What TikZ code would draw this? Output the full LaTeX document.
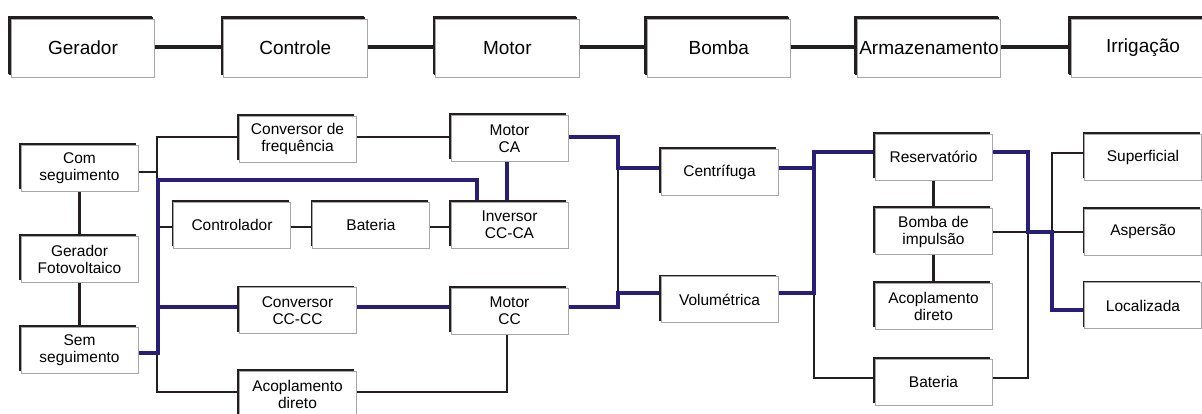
\documentclass[tikz,border=0pt]{standalone}
\usepackage{fontspec}
\setmainfont{Liberation Sans}
\usetikzlibrary{shadows,backgrounds}
\definecolor{ink}{HTML}{231F20}
\definecolor{navy}{HTML}{281E78}
\definecolor{edge}{HTML}{A8A8A8}
\tikzset{
  bx/.style={rectangle, draw=edge, fill=white, line width=0.8pt, inner sep=0pt,
    minimum width=117pt, minimum height=46pt, align=center,
    font=\fontsize{15.5}{17}\selectfont,
    general shadow={fill=ink, shadow xshift=-2pt, shadow yshift=2pt}},
  topbx/.style={bx, minimum width=143.5pt, minimum height=58pt,
    font=\fontsize{19}{21}\selectfont,
    general shadow={fill=ink, shadow xshift=-2.8pt, shadow yshift=2.8pt}},
  blk/.style={draw=ink, line width=2.8pt},
  blkthin/.style={draw=ink, line width=2pt},
  blu/.style={draw=navy, line width=4pt},
  topln/.style={draw=ink, line width=4pt}
}
\begin{document}
\begin{tikzpicture}[x=1pt,y=-1pt]
\useasboundingbox (0,0) rectangle (1202,414);
% top row
\node[topbx] (tGer) at (83,48) {Gerador};
\node[topbx] (tCon) at (295.2,48) {Controle};
\node[topbx] (tMot) at (507.3,48) {Motor};
\node[topbx] (tBom) at (718.8,48) {Bomba};
\node[topbx] (tArm) at (929,48) {Armazenamento};
\node[topbx] (tIrr) at (1143,48) {Irrigação};
% lower boxes
\node[bx] (ComSeg) at (79.5,168) {Com\\seguimento};
\node[bx] (GerFV) at (79.5,259) {Gerador\\Fotovoltaico};
\node[bx] (SemSeg) at (79.5,350) {Sem\\seguimento};
\node[bx] (ConvFreq) at (297.5,139) {Conversor de\\frequência};
\node[bx] (Controlador) at (232,225) {Controlador};
\node[bx] (BatA) at (371,225) {Bateria};
\node[bx] (ConvCC) at (297.5,310.5) {Conversor\\CC-CC};
\node[bx] (AcopL) at (297.5,394) {Acoplamento\\direto};
\node[bx] (MotorCA) at (509.5,138.5) {Motor\\CA};
\node[bx] (Inversor) at (509.5,225) {Inversor\\CC-CA};
\node[bx] (MotorCC) at (509.5,311) {Motor\\CC};
\node[bx] (Centr) at (719.5,172) {Centrífuga};
\node[bx] (Volum) at (719.5,299.5) {Volumétrica};
\node[bx] (Reserv) at (933.5,157) {Reservatório};
\node[bx] (BombaImp) at (933.5,231.5) {Bomba de\\impulsão};
\node[bx] (AcopR) at (933.5,306) {Acoplamento\\direto};
\node[bx] (BatB) at (933.5,382) {Bateria};
\node[bx] (Superf) at (1143,157) {Superficial};
\node[bx] (Aspers) at (1143,232) {Aspersão};
\node[bx] (Local) at (1143,305.5) {Localizada};
\coordinate (jL) at (158,180);
\begin{pgfonlayer}{background}
% top row connectors
\draw[topln] (tGer.east |- 0,47) -- (tCon.west |- 0,47);
\draw[topln] (tCon.east |- 0,47) -- (tMot.west |- 0,47);
\draw[topln] (tMot.east |- 0,47) -- (tBom.west |- 0,47);
\draw[topln] (tBom.east |- 0,47) -- (tArm.west |- 0,47);
\draw[topln] (tArm.east |- 0,47) -- (tIrr.west |- 0,47);
% black connectors
\draw[blk] (ConvFreq.west |- 0,137) -- (157,137) -- (157,180);
\draw[blk] (ComSeg.east |- 0,172) -- (157,172);
\draw[blk] (157,353) -- (157,392) -- (AcopL.west |- 0,392);
\draw[blk] (ComSeg.south) -- (GerFV.north);
\draw[blk] (GerFV.south) -- (SemSeg.north);
\draw[blk] (158,227) -- (Controlador.west |- 0,227);
\draw[blk] (Controlador.east |- 0,227) -- (BatA.west |- 0,227);
\draw[blk] (BatA.east |- 0,227) -- (Inversor.west |- 0,227);
\draw[blk] (ConvFreq.east |- 0,137) -- (MotorCA.west |- 0,137);
\draw[blk] (AcopL.east |- 0,392) -- (507,392) -- (MotorCC.south -| 507,0);
\draw[blk] (618,168) -- (618,293);
\draw[blk] (814,293) -- (814,378) -- (BatB.west |- 0,378);
\draw[blk] (BatB.east |- 0,378) -- (1028,378) -- (1028,232);
\draw[blk] (Reserv.south) -- (BombaImp.north);
\draw[blk] (BombaImp.south) -- (AcopR.north);
\draw[blkthin] (BombaImp.east |- 0,232) -- (1028,232);
\draw[blkthin] (1052,232) -- (Aspers.west |- 0,232);
\draw[blk] (Superf.west |- 0,153) -- (1052,153) -- (1052,232);
% blue connectors
\draw[blu] (SemSeg.east |- 0,353) -- (158,353) -- (jL) -- (477,180) -- (Inversor.north -| 477,0);
\draw[blu] (158,307) -- (ConvCC.west |- 0,307);
\draw[blu] (ConvCC.east |- 0,307) -- (MotorCC.west |- 0,307);
\draw[blu] (MotorCA.south -| 507,0) -- (Inversor.north -| 507,0);
\draw[blu] (MotorCA.east |- 0,137) -- (618,137) -- (618,168) -- (Centr.west |- 0,168);
\draw[blu] (MotorCC.east |- 0,307) -- (618,307) -- (618,293) -- (Volum.west |- 0,293);
\draw[blu] (Centr.east |- 0,168) -- (814,168);
\draw[blu] (Volum.east |- 0,293) -- (814,293) -- (814,152) -- (Reserv.west |- 0,152);
\draw[blu] (Reserv.east |- 0,152) -- (1028,152) -- (1028,232) -- (1052,232) -- (1052,310) -- (Local.west |- 0,310);
\end{pgfonlayer}
\end{tikzpicture}
\end{document}
